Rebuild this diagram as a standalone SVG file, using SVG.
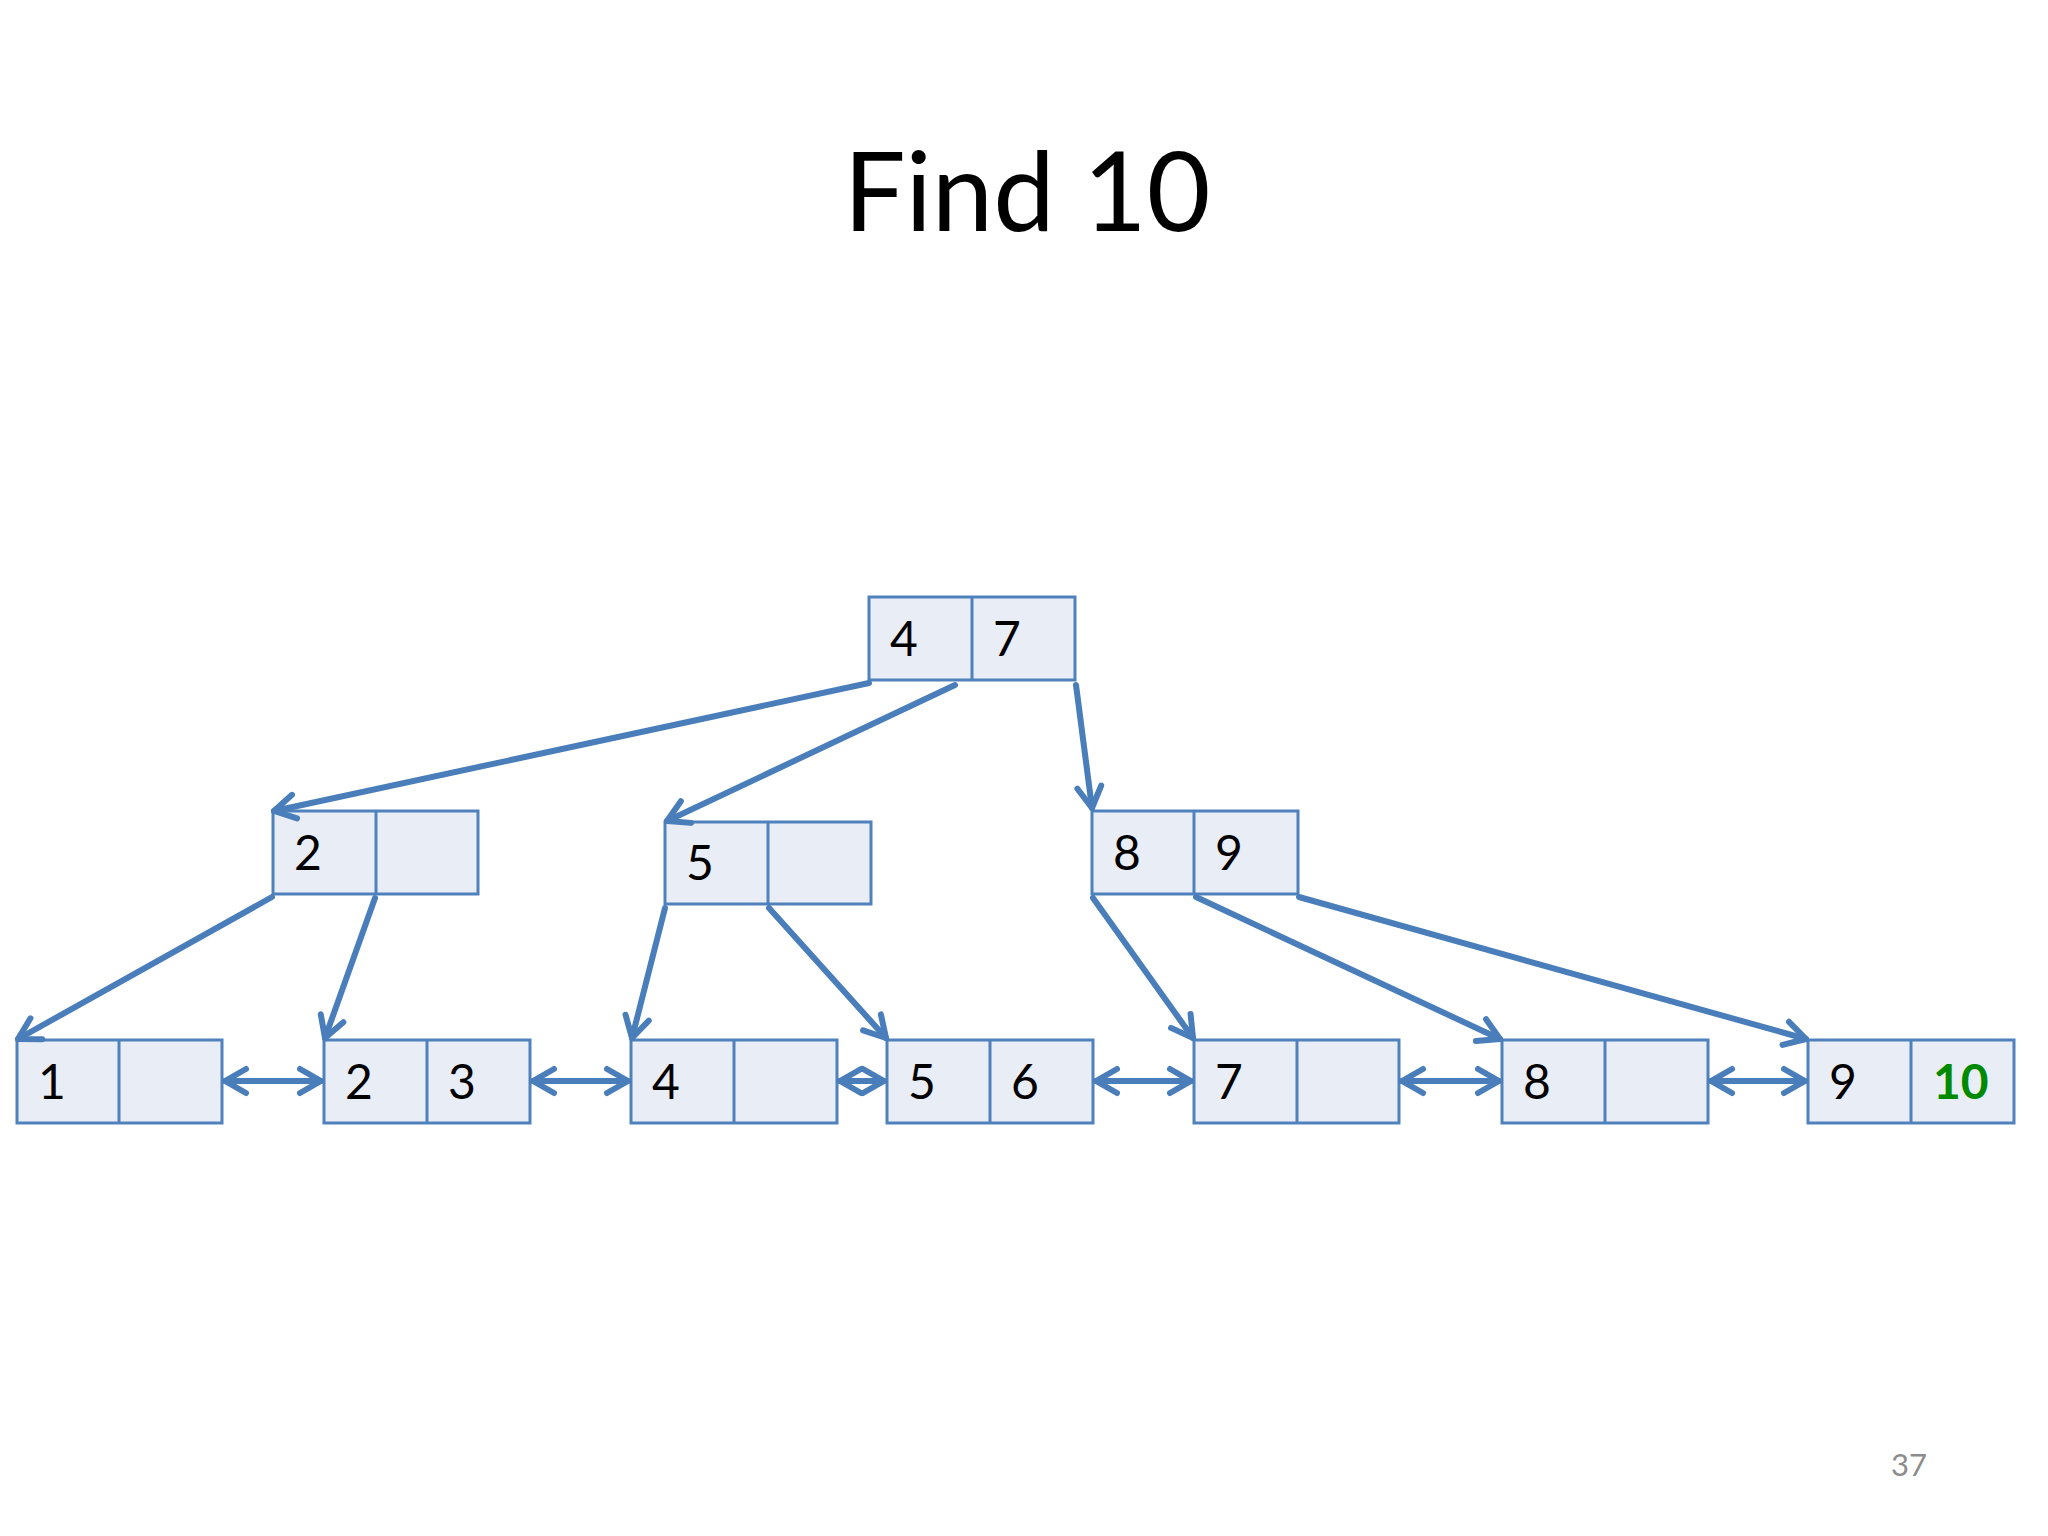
<svg xmlns="http://www.w3.org/2000/svg" width="2048" height="1536" viewBox="0 0 2048 1536">
<style>
.cell{fill:#E9EDF5;stroke:#4F81BD;stroke-width:3}
.div{stroke:#4F81BD;stroke-width:3}
.k{font-family:Lato,"Liberation Sans",sans-serif;font-size:48px;fill:#000}
.hit{font-weight:bold;fill:#008A00}
.c{fill:none;stroke:#4A7EBB;stroke-width:6;stroke-linecap:round}
.title{font-family:Lato,"Liberation Sans",sans-serif;font-size:110px;fill:#000}
.pg{font-family:Lato,"Liberation Sans",sans-serif;font-size:31px;fill:#8C8C8C}
</style>
<defs>
<marker id="ah" markerUnits="userSpaceOnUse" markerWidth="44" markerHeight="44" viewBox="-32 -22 44 44" refX="0" refY="0" orient="auto-start-reverse">
<path d="M-21,-12 L0,0 L-21,12" fill="none" stroke="#4A7EBB" stroke-width="6" stroke-linecap="round" stroke-linejoin="round"/>
</marker>
</defs>
<rect width="2048" height="1536" fill="#fff"/>
<text class="title" x="1027" y="231" text-anchor="middle">Find 10</text>
<text class="pg" x="1891" y="1476">37</text>

<g id="root">
<rect class="cell" x="869" y="597" width="206" height="83"/>
<line class="div" x1="972" y1="597" x2="972" y2="680"/>
<text class="k" x="890" y="656">4</text>
<text class="k" x="993" y="656">7</text>
</g>

<g id="n2">
<rect class="cell" x="273" y="811" width="205" height="83"/>
<line class="div" x1="376" y1="811" x2="376" y2="894"/>
<text class="k" x="294" y="870">2</text>
</g>
<g id="n5">
<rect class="cell" x="665" y="822" width="206" height="82"/>
<line class="div" x1="768" y1="822" x2="768" y2="904"/>
<text class="k" x="686" y="880">5</text>
</g>
<g id="n89">
<rect class="cell" x="1092" y="811" width="206" height="83"/>
<line class="div" x1="1194" y1="811" x2="1194" y2="894"/>
<text class="k" x="1113" y="870">8</text>
<text class="k" x="1215" y="870">9</text>
</g>

<g id="l1">
<rect class="cell" x="17" y="1040" width="205" height="83"/>
<line class="div" x1="119" y1="1040" x2="119" y2="1123"/>
<text class="k" x="38" y="1099">1</text>
</g>
<g id="l23">
<rect class="cell" x="324" y="1040" width="206" height="83"/>
<line class="div" x1="427" y1="1040" x2="427" y2="1123"/>
<text class="k" x="345" y="1099">2</text>
<text class="k" x="448" y="1099">3</text>
</g>
<g id="l4">
<rect class="cell" x="631" y="1040" width="206" height="83"/>
<line class="div" x1="734" y1="1040" x2="734" y2="1123"/>
<text class="k" x="652" y="1099">4</text>
</g>
<g id="l56">
<rect class="cell" x="887" y="1040" width="206" height="83"/>
<line class="div" x1="990" y1="1040" x2="990" y2="1123"/>
<text class="k" x="908" y="1099">5</text>
<text class="k" x="1011" y="1099">6</text>
</g>
<g id="l7">
<rect class="cell" x="1194" y="1040" width="205" height="83"/>
<line class="div" x1="1297" y1="1040" x2="1297" y2="1123"/>
<text class="k" x="1215" y="1099">7</text>
</g>
<g id="l8">
<rect class="cell" x="1502" y="1040" width="206" height="83"/>
<line class="div" x1="1605" y1="1040" x2="1605" y2="1123"/>
<text class="k" x="1523" y="1099">8</text>
</g>
<g id="l910">
<rect class="cell" x="1808" y="1040" width="206" height="83"/>
<line class="div" x1="1911" y1="1040" x2="1911" y2="1123"/>
<text class="k" x="1829" y="1099">9</text>
<text class="k hit" x="1933" y="1099">10</text>
</g>

<g id="connectors">
<line class="c" x1="869" y1="683" x2="274" y2="811" marker-end="url(#ah)"/>
<line class="c" x1="955" y1="685" x2="667" y2="821" marker-end="url(#ah)"/>
<line class="c" x1="1076" y1="685" x2="1092" y2="808" marker-end="url(#ah)"/>
<line class="c" x1="272" y1="897" x2="18" y2="1039" marker-end="url(#ah)"/>
<line class="c" x1="375" y1="898" x2="325" y2="1038" marker-end="url(#ah)"/>
<line class="c" x1="665" y1="908" x2="632" y2="1038" marker-end="url(#ah)"/>
<line class="c" x1="769" y1="908" x2="886" y2="1038" marker-end="url(#ah)"/>
<line class="c" x1="1093" y1="898" x2="1193" y2="1038" marker-end="url(#ah)"/>
<line class="c" x1="1196" y1="897" x2="1500" y2="1039" marker-end="url(#ah)"/>
<line class="c" x1="1299" y1="897" x2="1806" y2="1039" marker-end="url(#ah)"/>
<line class="c" x1="225" y1="1081" x2="321" y2="1081" marker-start="url(#ah)" marker-end="url(#ah)"/>
<line class="c" x1="533" y1="1081" x2="628" y2="1081" marker-start="url(#ah)" marker-end="url(#ah)"/>
<line class="c" x1="840" y1="1081" x2="884" y2="1081" marker-start="url(#ah)" marker-end="url(#ah)"/>
<line class="c" x1="1096" y1="1081" x2="1191" y2="1081" marker-start="url(#ah)" marker-end="url(#ah)"/>
<line class="c" x1="1402" y1="1081" x2="1499" y2="1081" marker-start="url(#ah)" marker-end="url(#ah)"/>
<line class="c" x1="1711" y1="1081" x2="1805" y2="1081" marker-start="url(#ah)" marker-end="url(#ah)"/>
</g>
</svg>
